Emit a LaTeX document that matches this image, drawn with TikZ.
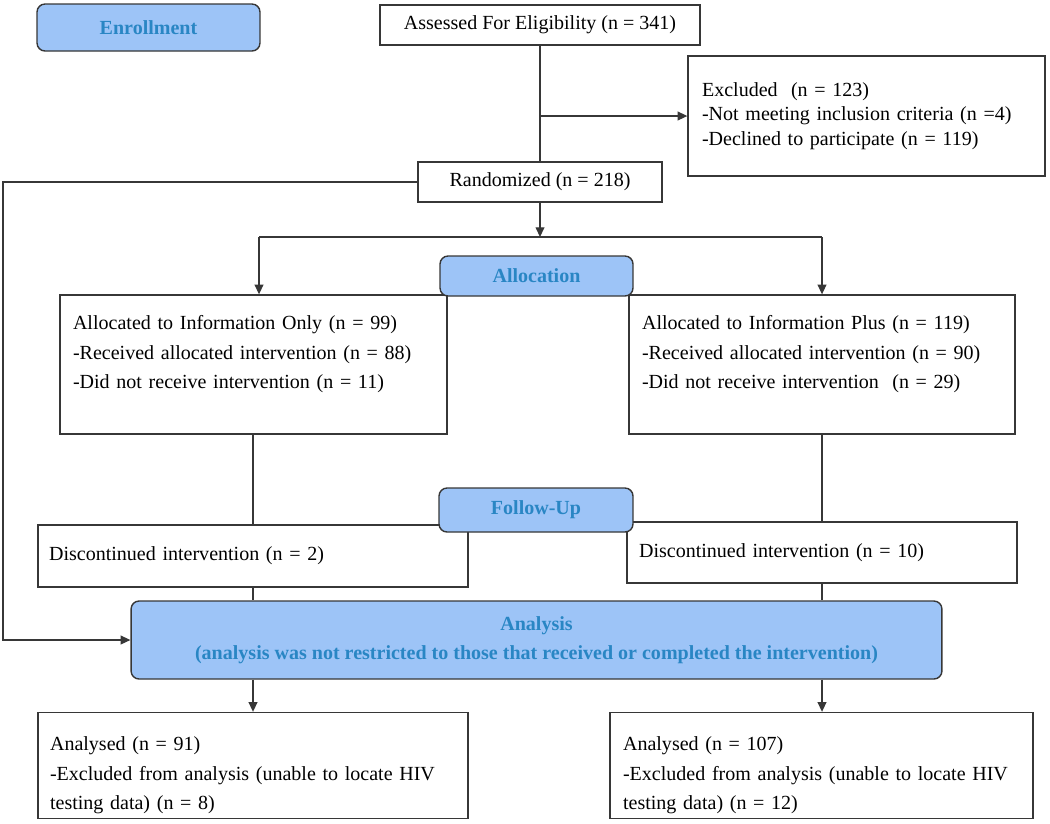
\documentclass[tikz,border=0pt]{standalone}
\usepackage{fontspec}
\setmainfont{Liberation Serif}
\usetikzlibrary{arrows.meta}
\definecolor{boxblue}{RGB}{157,196,247}
\definecolor{headblue}{RGB}{41,134,196}
\definecolor{edgegray}{RGB}{55,55,55}
\newcommand{\botpad}[1]{\rule[-#1]{0pt}{#1}}
\newcommand{\toppad}[1]{\rule{0pt}{#1}}

\begin{document}
\begin{tikzpicture}[x=0.02cm, y=-0.02cm,
    every node/.style={font=\fontsize{11.4}{16.8}\selectfont},
    plain/.style={draw=edgegray, line width=0.8pt, fill=white, inner sep=0pt},
    textbox/.style={plain, align=left, text width=#1},
    stage/.style={draw=edgegray, line width=0.8pt, fill=boxblue, rounded corners=0.16cm,
        text=headblue, font=\fontsize{11.4}{16.5}\selectfont\bfseries, align=center, inner sep=0pt},
    line/.style={edgegray, line width=0.7pt},
    arr/.style={line, -{Triangle[length=5.5pt,width=5pt]}}]
    \useasboundingbox (0,0) rectangle (1050,823);

    \node[stage, minimum width=4.46cm, minimum height=0.94cm] (enrol) at (148.5,27.5) {Enrollment};
    \node[plain, minimum width=6.4cm, minimum height=0.8cm] (assess) at (540,25) {Assessed For Eligibility (n = 341)};
    \node[textbox=6.58cm, inner xsep=0.28cm, minimum height=2.4cm, font=\fontsize{11.4}{13.9}\selectfont] (excl) at (866.5,116)
        {Excluded\ \ (n = 123)\\-Not meeting inclusion criteria (n =4)\\-Declined to participate (n = 119)};
    \node[plain, minimum width=4.88cm, minimum height=0.8cm] (rand) at (540,182) {Randomized (n = 218)};

    \node[textbox=7.22cm, inner xsep=0.26cm, minimum height=2.78cm] (infoL) at (253.5,364.5)
        {Allocated to Information Only (n = 99)\\-Received allocated intervention (n = 88)\\-Did not receive intervention (n = 11)\botpad{0.5cm}};
    \node[textbox=7.2cm, inner xsep=0.26cm, minimum height=2.78cm] (infoR) at (822,364.5)
        {Allocated to Information Plus (n = 119)\\-Received allocated intervention (n = 90)\\-Did not receive intervention\ \ (n = 29)\botpad{0.5cm}};
    \node[stage, minimum width=3.86cm, minimum height=0.8cm] (alloc) at (536.5,276) {Allocation};

    \node[textbox=8.16cm, inner xsep=0.22cm, minimum height=1.24cm] (discL) at (253,556) {Discontinued intervention (n = 2)};
    \node[textbox=7.32cm, inner xsep=0.24cm, minimum height=1.22cm] (discR) at (822,552.5) {Discontinued intervention (n = 10)};
    \node[stage, minimum width=3.88cm, minimum height=0.88cm] (follow) at (536,510) {Follow-Up};

    \node[stage, minimum width=16.22cm, minimum height=1.56cm] (anal) at (536.5,640)
        {Analysis\\(analysis was not restricted to those that received or completed the intervention)};

    \node[textbox=8.12cm, inner xsep=0.24cm, minimum height=2.12cm] (resL) at (253,765.5)
        {\toppad{0.67cm}Analysed (n = 91)\\-Excluded from analysis (unable to locate HIV\\testing data) (n = 8)};
    \node[textbox=7.94cm, inner xsep=0.26cm, minimum height=2.12cm] (resR) at (821.5,765.5)
        {\toppad{0.67cm}Analysed (n = 107)\\-Excluded from analysis (unable to locate HIV\\testing data) (n = 12)};

    \coordinate (split) at (540,237);
    \coordinate (brL) at (259,237);
    \coordinate (brR) at (822,237);
    \coordinate (loop) at (3,0);

    \draw[line] (assess) -- (rand);
    \draw[arr] (assess.south |- excl.west) -- (excl.west);
    \draw[arr] (rand) -- (split);
    \draw[line] (brL) -- (brR);
    \draw[arr] (brL) -- (brL |- infoL.north);
    \draw[arr] (brR) -- (brR |- infoR.north);
    \draw[line] (discL.north |- infoL.south) -- (discL.north);
    \draw[line] (infoR.south) -- (infoR.south |- discR.north);
    \draw[line] (discL.south) -- (discL.south |- anal.north);
    \draw[line] (infoR.south |- discR.south) -- (infoR.south |- anal.north);
    \draw[arr] (rand.west) -- (rand.west -| loop) |- (anal.west);
    \draw[arr] (anal.south -| resL.north) -- (resL.north);
    \draw[arr] (anal.south -| infoR.south) -- (infoR.south |- resR.north);
\end{tikzpicture}
\end{document}
